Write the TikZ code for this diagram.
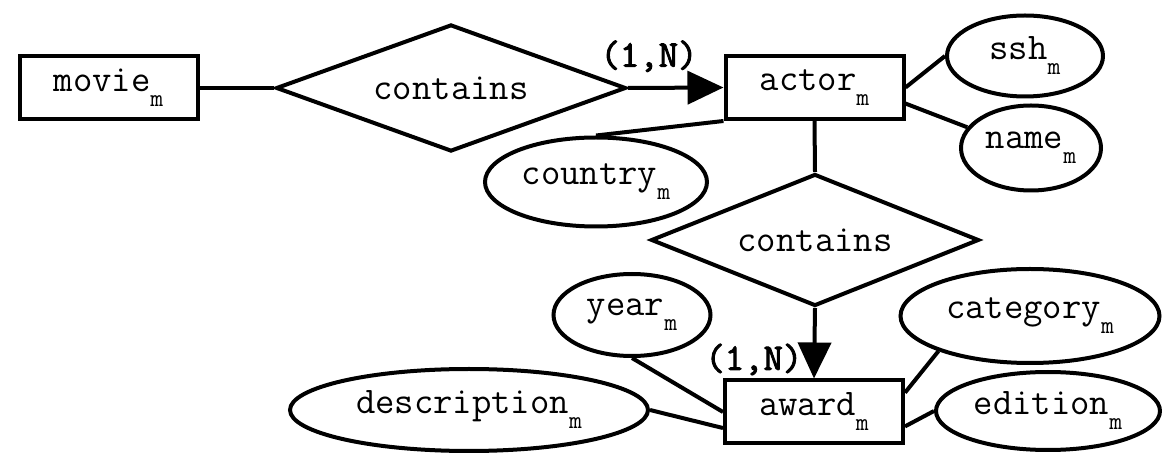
\documentclass[tikz,border=0pt]{standalone}
\usepackage{fontspec}
\usetikzlibrary{shapes,arrows.meta,calc}
\newfontfamily\cardfont{Latin Modern Mono}[FakeBold=2.5]
\newcommand{\bw}{89}
\newcommand{\bh}{31.5}
\newcommand{\msub}[1]{#1\raisebox{-7.5pt}{\fontsize{12.5}{0}\selectfont m}}
\newcommand{\mattr}[5]{
  \node [attr,minimum width=#3pt,minimum height=#4pt] at #1 (#2) {\msub{#5}};
}
\newcommand{\mentity}[3]{
  \node [entity] at #1 (#2) {\msub{#3}};
}

\begin{document}
\begin{tikzpicture}[x=0.5pt,y=0.5pt,line width=2pt,>={Triangle[length=18pt,width=16.5pt]},
    font=\ttfamily\fontsize{18.8}{20}\selectfont,
    entity/.style={draw,rectangle,inner sep=0pt,minimum width=\bw pt,minimum height=\bh pt},
    attr/.style={draw,ellipse,inner sep=0pt},
    rel/.style={draw,diamond,inner sep=0pt,shape aspect=2.7},
    card/.style={font=\cardfont\fontsize{18.8}{20}\selectfont,inner sep=0pt}]
  \useasboundingbox (0,0) rectangle (1162,455);

  \mentity{(108.5,367)}{movie}{movie}
  \mentity{(814.5,367.5)}{actor}{actor}
  \mentity{(814,43)}{award}{award}

  \node [rel,minimum width=175pt,minimum height=63.5pt] at (451,367) (c1) {contains};
  \node [rel,minimum width=164pt,minimum height=66pt] at (815,215) (c2) {contains};

  \mattr{(1025,399)}{ssh}{78}{40.5}{ssh}
  \mattr{(1031,307)}{name}{70}{42.5}{name}
  \mattr{(596,273)}{country}{111}{44.5}{country}
  \mattr{(632,140)}{year}{78.5}{41}{year}
  \mattr{(469,45)}{desc}{179}{41}{description}
  \mattr{(1030,139)}{cat}{129.5}{47}{category}
  \mattr{(1048,44)}{ed}{112}{39}{edition}

  % relationships
  \draw (movie.east) -- (c1.west);
  \draw [->] (c1.east) -- node [card,above=7pt,pos=0.22] {(1,N)} (actor.west);
  \draw (actor.south) -- (c2.north);
  \draw [->] (c2.south) -- node [card,left=5pt,pos=0.73] {(1,N)} (award.north);

  % attributes
  \draw (actor.east) -- (ssh.west);
  \draw (actor.-10) -- (name.162);
  \draw (actor.south west) -- (country.north);
  \draw (year.south) -- (award.west);
  \draw (desc.east) -- (award.190);
  \draw (cat.201) -- (award.12);
  \draw (award.-9) -- (ed.west);
\end{tikzpicture}
\end{document}
